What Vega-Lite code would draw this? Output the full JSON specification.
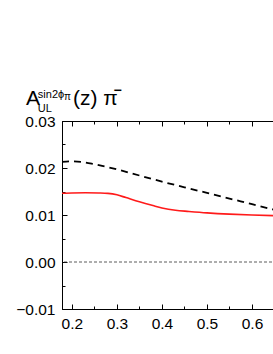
{
  "$schema": "https://vega.github.io/schema/vega-lite/v6.json",
  "width": 235,
  "height": 188,
  "autosize": {"type": "none"},
  "padding": {"left": 62, "top": 121, "right": 0, "bottom": 45},
  "background": "white",
  "config": {
    "view": {"stroke": "black", "strokeWidth": 1},
    "font": "Liberation Sans",
    "axis": {
      "domainColor": "black",
      "tickColor": "black",
      "labelColor": "black",
      "labelFont": "Liberation Sans",
      "labelFontSize": 15.5,
      "grid": false,
      "title": null
    }
  },
  "datasets": {
    "one": [{}],
    "dashed": [
      {"z": 0.178, "A": 0.0213},
      {"z": 0.20, "A": 0.0214},
      {"z": 0.22, "A": 0.0213},
      {"z": 0.25, "A": 0.0208},
      {"z": 0.30, "A": 0.0197},
      {"z": 0.35, "A": 0.0184},
      {"z": 0.40, "A": 0.0171},
      {"z": 0.45, "A": 0.0159},
      {"z": 0.50, "A": 0.0147},
      {"z": 0.55, "A": 0.0135},
      {"z": 0.60, "A": 0.0123},
      {"z": 0.65, "A": 0.0111}
    ],
    "solid": [
      {"z": 0.178, "A": 0.01462},
      {"z": 0.20, "A": 0.01468},
      {"z": 0.23, "A": 0.01472},
      {"z": 0.26, "A": 0.01468},
      {"z": 0.28, "A": 0.01460},
      {"z": 0.30, "A": 0.01430},
      {"z": 0.32, "A": 0.01370},
      {"z": 0.35, "A": 0.01280},
      {"z": 0.38, "A": 0.01200},
      {"z": 0.40, "A": 0.01150},
      {"z": 0.43, "A": 0.01100},
      {"z": 0.46, "A": 0.01075},
      {"z": 0.50, "A": 0.01045},
      {"z": 0.55, "A": 0.01018},
      {"z": 0.60, "A": 0.01000},
      {"z": 0.65, "A": 0.00985}
    ]
  },
  "resolve": {"axis": {"x": "independent", "y": "independent"}},
  "layer": [
    {
      "data": {"name": "one"},
      "mark": {"type": "rule", "color": "#333", "strokeWidth": 0.8, "strokeDash": [3, 2]},
      "encoding": {
        "y": {"datum": 0, "type": "quantitative", "scale": {"domain": [-0.01, 0.03], "nice": false}, "axis": null}
      }
    },
    {
      "data": {"name": "dashed"},
      "mark": {"type": "line", "color": "black", "strokeWidth": 1.8, "strokeDash": [7, 5], "interpolate": "monotone", "clip": true},
      "encoding": {
        "x": {
          "field": "z", "type": "quantitative",
          "scale": {"domain": [0.178, 0.7], "nice": false, "zero": false},
          "axis": {
            "orient": "bottom",
            "values": [0.2, 0.25, 0.3, 0.35, 0.4, 0.45, 0.5, 0.55, 0.6, 0.65],
            "labelExpr": "abs(round(datum.value*10) - datum.value*10) < 0.01 ? format(datum.value, '.1f') : ''",
            "tickSize": {"condition": {"test": "abs(round(datum.value*10) - datum.value*10) < 0.01", "value": -5}, "value": -3},
            "labelPadding": 12,
            "labelFlush": false
          }
        },
        "y": {
          "field": "A", "type": "quantitative",
          "scale": {"domain": [-0.01, 0.03], "nice": false},
          "axis": {
            "orient": "left",
            "values": [-0.01, -0.005, 0, 0.005, 0.01, 0.015, 0.02, 0.025, 0.03],
            "labelExpr": "abs(round(datum.value*100) - datum.value*100) < 0.01 ? format(datum.value, '.2f') : ''",
            "tickSize": {"condition": {"test": "abs(round(datum.value*100) - datum.value*100) < 0.01", "value": -5}, "value": -3},
            "labelPadding": 12,
            "labelFlush": false
          }
        }
      }
    },
    {
      "data": {"name": "solid"},
      "mark": {"type": "line", "color": "#ff1a1a", "strokeWidth": 1.6, "interpolate": "monotone", "clip": true},
      "encoding": {
        "x": {
          "field": "z", "type": "quantitative",
          "scale": {"domain": [0.178, 0.7], "nice": false, "zero": false},
          "axis": {
            "orient": "top",
            "values": [0.2, 0.25, 0.3, 0.35, 0.4, 0.45, 0.5, 0.55, 0.6, 0.65],
            "labels": false,
            "tickSize": {"condition": {"test": "abs(round(datum.value*10) - datum.value*10) < 0.01", "value": -5}, "value": -3}
          }
        },
        "y": {"field": "A", "type": "quantitative", "scale": {"domain": [-0.01, 0.03], "nice": false}, "axis": null}
      }
    },
    {
      "data": {"name": "one"},
      "mark": {"type": "text", "text": "A", "fontSize": 21, "align": "left", "baseline": "alphabetic", "font": "Liberation Sans"},
      "encoding": {
        "x": {"datum": 0.0978, "type": "quantitative", "axis": null},
        "y": {"datum": 0.0334, "type": "quantitative", "axis": null}
      }
    },
    {
      "data": {"name": "one"},
      "mark": {"type": "text", "text": "sin2ϕ", "fontSize": 11, "align": "left", "baseline": "alphabetic", "font": "Liberation Sans"},
      "encoding": {
        "x": {"datum": 0.1244, "type": "quantitative", "axis": null},
        "y": {"datum": 0.03489, "type": "quantitative", "axis": null}
      }
    },
    {
      "data": {"name": "one"},
      "mark": {"type": "text", "text": "π", "fontSize": 10, "align": "left", "baseline": "alphabetic", "font": "Liberation Sans"},
      "encoding": {
        "x": {"datum": 0.1822, "type": "quantitative", "axis": null},
        "y": {"datum": 0.03447, "type": "quantitative", "axis": null}
      }
    },
    {
      "data": {"name": "one"},
      "mark": {"type": "text", "text": "UL", "fontSize": 11, "align": "left", "baseline": "alphabetic", "font": "Liberation Sans"},
      "encoding": {
        "x": {"datum": 0.1244, "type": "quantitative", "axis": null},
        "y": {"datum": 0.03191, "type": "quantitative", "axis": null}
      }
    },
    {
      "data": {"name": "one"},
      "mark": {"type": "text", "text": "(z) π", "fontSize": 21, "align": "left", "baseline": "alphabetic", "font": "Liberation Sans"},
      "encoding": {
        "x": {"datum": 0.2022, "type": "quantitative", "axis": null},
        "y": {"datum": 0.0334, "type": "quantitative", "axis": null}
      }
    },
    {
      "data": {"name": "one"},
      "mark": {"type": "text", "text": "−", "fontSize": 14, "fontWeight": "bold", "align": "left", "baseline": "alphabetic", "font": "Liberation Sans"},
      "encoding": {
        "x": {"datum": 0.2922, "type": "quantitative", "axis": null},
        "y": {"datum": 0.03553, "type": "quantitative", "axis": null}
      }
    }
  ]
}
